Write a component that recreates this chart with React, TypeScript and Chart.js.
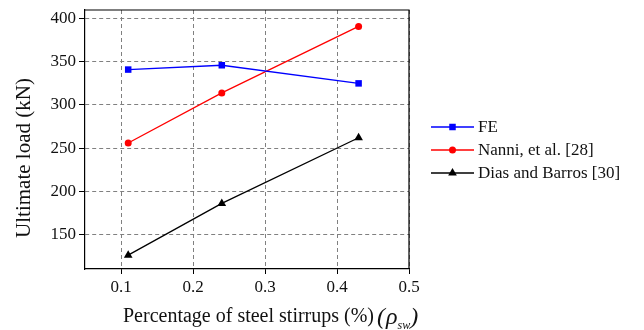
import React, { useEffect, useRef } from "react";
import { Chart, registerables } from "chart.js";

Chart.register(...registerables);

const xValues = [0.11, 0.24, 0.43];
const feValues = [341, 346, 325];
const nanniValues = [256, 314, 391];
const diasValues = [126, 186, 262];
const xTicks = [0.1, 0.2, 0.3, 0.4, 0.5];
const yTicks = [150, 200, 250, 300, 350, 400];
const seriesNames = ["FE", "Nanni, et al. [28]", "Dias and Barros [30]"];

const FONT = "'Liberation Serif', 'Times New Roman', serif";

function drawMarker(ctx: CanvasRenderingContext2D, style: string, x: number, y: number, r: number, color: string) {
  ctx.save();
  ctx.fillStyle = color;
  ctx.beginPath();
  if (style === "rect") {
    const s = Math.SQRT1_2 * r;
    ctx.rect(x - s, y - s, 2 * s, 2 * s);
  } else if (style === "circle") {
    ctx.arc(x, y, r, 0, Math.PI * 2);
  } else {
    const w = r * Math.sin(Math.PI / 3);
    ctx.moveTo(x, y - r);
    ctx.lineTo(x + w, y + r / 2);
    ctx.lineTo(x - w, y + r / 2);
    ctx.closePath();
  }
  ctx.fill();
  ctx.restore();
}

const decorPlugin = {
  id: "decor",
  afterDraw(chart: any) {
    const ctx: CanvasRenderingContext2D = chart.ctx;
    const a = chart.chartArea;
    ctx.save();
    // frame top/right
    ctx.strokeStyle = "#000";
    ctx.lineWidth = 1.2;
    ctx.beginPath();
    ctx.moveTo(a.left, a.top);
    ctx.lineTo(a.right, a.top);
    ctx.lineTo(a.right, a.bottom);
    ctx.stroke();

    ctx.fillStyle = "#111";
    // y title
    ctx.save();
    ctx.translate(24, 158);
    ctx.rotate(-Math.PI / 2);
    ctx.font = `21px ${FONT}`;
    ctx.textAlign = "center";
    ctx.textBaseline = "middle";
    ctx.fillText("Ultimate load (kN)", 0, 0);
    ctx.restore();

    // x title
    ctx.textAlign = "left";
    ctx.textBaseline = "alphabetic";
    ctx.font = `20px ${FONT}`;
    let x = 123;
    const base = 322;
    const main = "Percentage of steel stirrups (%)";
    ctx.fillText(main, x, base);
    x += ctx.measureText(main).width + 3;
    ctx.font = `italic 24px ${FONT}`;
    ctx.fillText("(", x, base + 2);
    x += ctx.measureText("(").width + 1;
    ctx.fillText("\u03C1", x, base + 2);
    x += ctx.measureText("\u03C1").width;
    ctx.font = `italic 12px ${FONT}`;
    ctx.fillText("sw", x, base + 7);
    x += ctx.measureText("sw").width;
    ctx.font = `italic 24px ${FONT}`;
    ctx.fillText(")", x, base + 2);

    // legend
    const rows = [127, 150, 173];
    chart.data.datasets.forEach((ds: any, i: number) => {
      const y = rows[i];
      ctx.strokeStyle = ds.borderColor;
      ctx.lineWidth = ds.borderWidth;
      ctx.beginPath();
      ctx.moveTo(431, y);
      ctx.lineTo(474, y);
      ctx.stroke();
      drawMarker(ctx, ds.pointStyle, 452.5, y, ds.pointRadius, ds.borderColor);
      ctx.fillStyle = "#111";
      ctx.font = `17px ${FONT}`;
      ctx.textBaseline = "middle";
      ctx.fillText(ds.label, 478, y + 1);
    });
    ctx.restore();
  },
};

export default function App() {
  const ref = useRef<HTMLCanvasElement>(null);
  useEffect(() => {
    if (!ref.current) return;
    const mk = (vals: number[]) => vals.map((v, i) => ({ x: xValues[i], y: v }));
    const chart = new Chart(ref.current, {
      type: "line",
      data: {
        datasets: [
          { label: seriesNames[0], data: mk(feValues), borderColor: "#0000ff", backgroundColor: "#0000ff", borderWidth: 1.3, pointStyle: "rect", pointRadius: 4.6, pointBorderWidth: 0 },
          { label: seriesNames[1], data: mk(nanniValues), borderColor: "#ff0000", backgroundColor: "#ff0000", borderWidth: 1.3, pointStyle: "circle", pointRadius: 3.5, pointBorderWidth: 0 },
          { label: seriesNames[2], data: mk(diasValues), borderColor: "#000000", backgroundColor: "#000000", borderWidth: 1.3, pointStyle: "triangle", pointRadius: 5, pointBorderWidth: 0 },
        ] as any,
      },
      options: {
        responsive: false,
        animation: false,
        layout: { padding: { left: 0, top: 10, right: 235, bottom: 0 } },
        plugins: { legend: { display: false }, tooltip: { enabled: false } },
        scales: {
          x: {
            type: "linear",
            min: 0.05,
            max: 0.5,
            afterBuildTicks: (s: any) => { s.ticks = xTicks.map((v) => ({ value: v })); },
            afterFit: (s: any) => { s.height = 61; s.paddingLeft = 0; s.paddingRight = 0; },
            ticks: { callback: (v: any) => String(v), font: { family: FONT, size: 17 }, color: "#111", padding: 3, maxRotation: 0, autoSkip: false },
            grid: { color: "#808080", lineWidth: 1, tickLength: 5, tickColor: "#000", tickWidth: 1 },
            border: { display: true, color: "#000", width: 1.2, dash: [4, 3] },
          },
          y: {
            type: "linear",
            min: 110,
            max: 410,
            afterBuildTicks: (s: any) => { s.ticks = yTicks.map((v) => ({ value: v })); },
            afterFit: (s: any) => { s.width = 85; s.paddingTop = 0; s.paddingBottom = 0; },
            ticks: { callback: (v: any) => String(v), font: { family: FONT, size: 17 }, color: "#111", padding: 3, autoSkip: false },
            grid: { color: "#808080", lineWidth: 1, tickLength: 6, tickColor: "#000", tickWidth: 1 },
            border: { display: true, color: "#000", width: 1.2, dash: [4, 3] },
          },
        },
      },
      plugins: [decorPlugin],
    });
    return () => chart.destroy();
  }, []);
  return (
    <div style={{ position: "fixed", left: 0, top: 0, width: 644, height: 330, background: "#fff" }}>
      <canvas ref={ref} width={644} height={330} />
    </div>
  );
}
